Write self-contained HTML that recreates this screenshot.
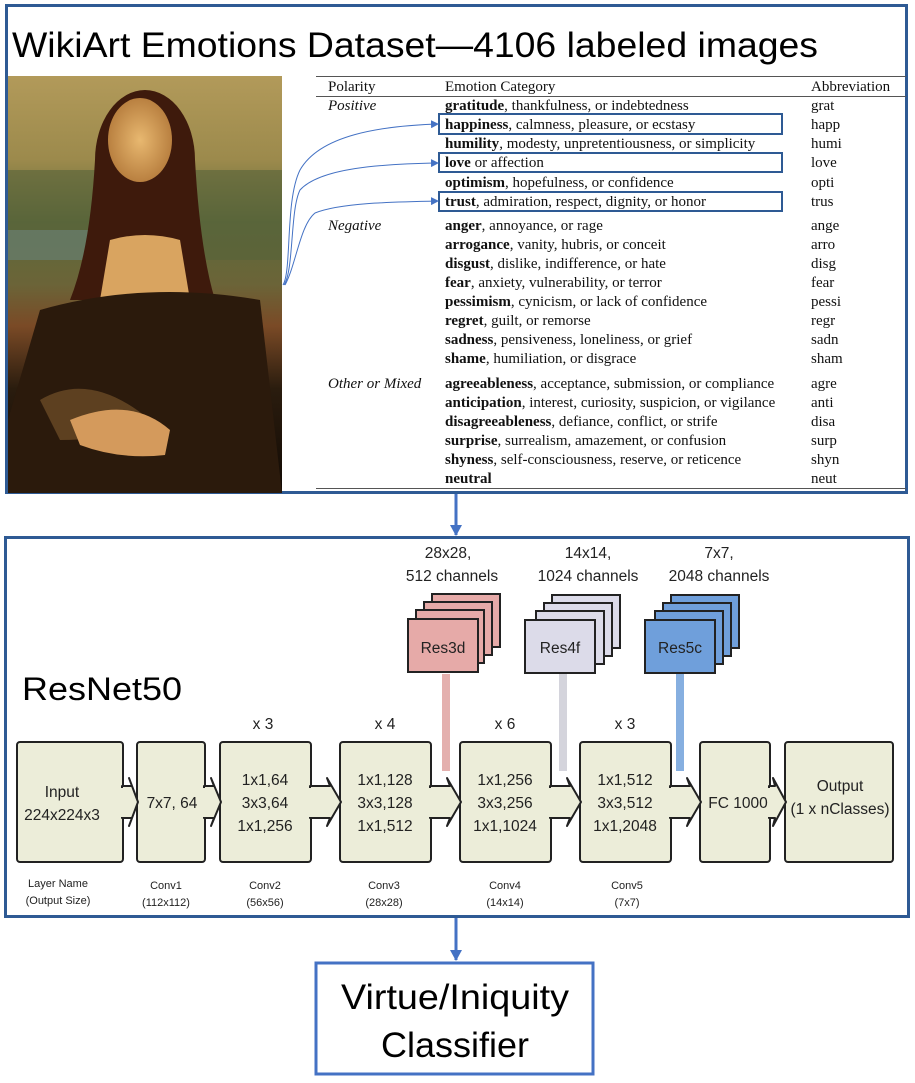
<!DOCTYPE html>
<html><head><meta charset="utf-8"><style>
html,body{margin:0;padding:0;background:#fff;width:915px;height:1083px;overflow:hidden}
svg{display:block}
.t{font-family:"Liberation Serif",serif;font-size:15px;fill:#111}
.s{font-family:"Liberation Sans",sans-serif;fill:#222}
</style></head><body>
<svg width="915" height="1083" viewBox="0 0 915 1083" xmlns="http://www.w3.org/2000/svg">
<defs>
<linearGradient id="bg" x1="0" y1="0" x2="0" y2="1">
<stop offset="0" stop-color="#b29a5a"/><stop offset="0.2" stop-color="#9c8a4c"/><stop offset="0.35" stop-color="#5e6a3a"/><stop offset="0.5" stop-color="#6b6438"/><stop offset="0.6" stop-color="#7a4a26"/><stop offset="0.75" stop-color="#2a1c0e"/><stop offset="1" stop-color="#120a04"/>
</linearGradient>
<radialGradient id="face" cx="0.5" cy="0.5" r="0.5"><stop offset="0" stop-color="#e8b870"/><stop offset="1" stop-color="#b98040"/></radialGradient>
<marker id="ah" markerWidth="8" markerHeight="8" refX="7" refY="4" orient="auto" markerUnits="userSpaceOnUse"><path d="M0,0 L8,4 L0,8z" fill="#4472c4"/></marker>
<marker id="ah2" markerWidth="12" markerHeight="12" refX="10" refY="6" orient="auto" markerUnits="userSpaceOnUse"><path d="M0,0 L11,6 L0,12z" fill="#4472c4"/></marker>
</defs>

<rect x="6.5" y="5.5" width="900" height="487" fill="none" stroke="#2e5a94" stroke-width="3"/>
<text x="12" y="57" font-family="Liberation Sans,sans-serif" font-size="35" fill="#000" textLength="806" lengthAdjust="spacingAndGlyphs">WikiArt Emotions Dataset—4106 labeled images</text>

<!-- painting -->
<rect x="8" y="76" width="274" height="417" fill="url(#bg)"/>
<rect x="8" y="170" width="274" height="90" fill="#56633a" opacity="0.6"/>
<rect x="8" y="230" width="80" height="30" fill="#6f8a88" opacity="0.5"/>
<ellipse cx="145" cy="160" rx="50" ry="70" fill="#3e1a0c"/>
<path d="M95,160 Q90,250 70,300 L215,300 Q200,250 195,160z" fill="#3e1a0c"/>
<ellipse cx="140" cy="140" rx="32" ry="42" fill="url(#face)"/>
<path d="M110,240 Q145,230 180,240 L190,300 Q145,320 100,300z" fill="#d9a460"/>
<path d="M40,310 Q145,280 260,300 L282,493 L8,493 L8,420z" fill="#2b1a0c"/>
<path d="M40,400 Q90,370 150,420 Q120,440 60,440z" fill="#6a4a26" opacity="0.8"/>
<path d="M70,420 Q130,395 170,430 L165,455 Q120,460 80,445z" fill="#d49a5c"/>

<!-- table -->
<line x1="316" y1="76.5" x2="906" y2="76.5" stroke="#555" stroke-width="1"/>
<line x1="316" y1="96.5" x2="906" y2="96.5" stroke="#555" stroke-width="1"/>
<line x1="316" y1="488.5" x2="906" y2="488.5" stroke="#555" stroke-width="1"/>
<g class="t">
<text x="328" y="91">Polarity</text><text x="445" y="91">Emotion Category</text><text x="811" y="91">Abbreviation</text>
<text x="328" y="110" font-style="italic">Positive</text>
<text x="328" y="230" font-style="italic">Negative</text>
<text x="328" y="388" font-style="italic">Other or Mixed</text>
<text x="445" y="110"><tspan font-weight="bold">gratitude</tspan>, thankfulness, or indebtedness</text>
<text x="445" y="129"><tspan font-weight="bold">happiness</tspan>, calmness, pleasure, or ecstasy</text>
<text x="445" y="148"><tspan font-weight="bold">humility</tspan>, modesty, unpretentiousness, or simplicity</text>
<text x="445" y="167"><tspan font-weight="bold">love</tspan> or affection</text>
<text x="445" y="187"><tspan font-weight="bold">optimism</tspan>, hopefulness, or confidence</text>
<text x="445" y="206"><tspan font-weight="bold">trust</tspan>, admiration, respect, dignity, or honor</text>
<text x="445" y="230"><tspan font-weight="bold">anger</tspan>, annoyance, or rage</text>
<text x="445" y="249"><tspan font-weight="bold">arrogance</tspan>, vanity, hubris, or conceit</text>
<text x="445" y="268"><tspan font-weight="bold">disgust</tspan>, dislike, indifference, or hate</text>
<text x="445" y="287"><tspan font-weight="bold">fear</tspan>, anxiety, vulnerability, or terror</text>
<text x="445" y="306"><tspan font-weight="bold">pessimism</tspan>, cynicism, or lack of confidence</text>
<text x="445" y="325"><tspan font-weight="bold">regret</tspan>, guilt, or remorse</text>
<text x="445" y="344"><tspan font-weight="bold">sadness</tspan>, pensiveness, loneliness, or grief</text>
<text x="445" y="363"><tspan font-weight="bold">shame</tspan>, humiliation, or disgrace</text>
<text x="445" y="388"><tspan font-weight="bold">agreeableness</tspan>, acceptance, submission, or compliance</text>
<text x="445" y="407"><tspan font-weight="bold">anticipation</tspan>, interest, curiosity, suspicion, or vigilance</text>
<text x="445" y="426"><tspan font-weight="bold">disagreeableness</tspan>, defiance, conflict, or strife</text>
<text x="445" y="445"><tspan font-weight="bold">surprise</tspan>, surrealism, amazement, or confusion</text>
<text x="445" y="464"><tspan font-weight="bold">shyness</tspan>, self-consciousness, reserve, or reticence</text>
<text x="445" y="483"><tspan font-weight="bold">neutral</tspan></text>
<text x="811" y="110">grat</text><text x="811" y="129">happ</text><text x="811" y="148">humi</text><text x="811" y="167">love</text><text x="811" y="187">opti</text><text x="811" y="206">trus</text>
<text x="811" y="230">ange</text><text x="811" y="249">arro</text><text x="811" y="268">disg</text><text x="811" y="287">fear</text><text x="811" y="306">pessi</text><text x="811" y="325">regr</text><text x="811" y="344">sadn</text><text x="811" y="363">sham</text>
<text x="811" y="388">agre</text><text x="811" y="407">anti</text><text x="811" y="426">disa</text><text x="811" y="445">surp</text><text x="811" y="464">shyn</text><text x="811" y="483">neut</text>
</g>
<g fill="none" stroke="#2e5a94" stroke-width="2">
<rect x="439" y="114" width="343" height="20"/>
<rect x="439" y="153" width="343" height="19"/>
<rect x="439" y="192" width="343" height="19"/>
</g>
<g fill="none" stroke="#4472c4" stroke-width="1">
<path d="M283,285 C292,270 285,200 300,170 C320,135 380,126 438,124" marker-end="url(#ah)"/>
<path d="M284,285 C294,270 290,210 300,190 C320,168 380,164 438,163" marker-end="url(#ah)"/>
<path d="M285,285 C296,265 300,225 315,213 C340,203 390,202 438,201" marker-end="url(#ah)"/>
</g>

<line x1="456" y1="494" x2="456" y2="535" stroke="#4472c4" stroke-width="3" marker-end="url(#ah2)"/>
<line x1="456" y1="918" x2="456" y2="960" stroke="#4472c4" stroke-width="3" marker-end="url(#ah2)"/>

<rect x="5.5" y="537.5" width="903" height="379" fill="none" stroke="#2e5a94" stroke-width="3"/>
<text x="22" y="700" font-family="Liberation Sans,sans-serif" font-size="32" fill="#000" textLength="160" lengthAdjust="spacingAndGlyphs">ResNet50</text>

<g class="s" font-size="15.5" text-anchor="middle">
<text x="448" y="558">28x28,</text><text x="452" y="581">512 channels</text>
<text x="588" y="558">14x14,</text><text x="588" y="581">1024 channels</text>
<text x="719" y="558">7x7,</text><text x="719" y="581">2048 channels</text>
</g>

<g stroke="#222" stroke-width="2">
<g fill="#e6aaa8">
<rect x="432" y="594" width="68" height="53"/><rect x="424" y="602" width="68" height="53"/><rect x="416" y="610" width="68" height="53"/><rect x="408" y="619" width="70" height="53"/>
</g>
<g fill="#dcdbe9">
<rect x="552" y="595" width="68" height="53"/><rect x="544" y="603" width="68" height="53"/><rect x="536" y="611" width="68" height="53"/><rect x="525" y="620" width="70" height="53"/>
</g>
<g fill="#6f9fdb">
<rect x="671" y="595" width="68" height="53"/><rect x="663" y="603" width="68" height="53"/><rect x="655" y="611" width="68" height="53"/><rect x="645" y="620" width="70" height="53"/>
</g>
</g>
<g class="s" font-size="15.5" text-anchor="middle">
<text x="443" y="653">Res3d</text><text x="560" y="653">Res4f</text><text x="680" y="653">Res5c</text>
</g>
<rect x="442" y="674" width="8" height="97" fill="#e4b0ae"/>
<rect x="559" y="674" width="8" height="97" fill="#d4d4dc"/>
<rect x="676" y="674" width="8" height="97" fill="#86afe0"/>

<g fill="#ecedd9" stroke="#222" stroke-width="2" stroke-linejoin="round">
<rect x="17" y="742" width="106" height="120" rx="3"/>
<rect x="137" y="742" width="68" height="120" rx="3"/>
<rect x="220" y="742" width="91" height="120" rx="3"/>
<rect x="340" y="742" width="91" height="120" rx="3"/>
<rect x="460" y="742" width="91" height="120" rx="3"/>
<rect x="580" y="742" width="91" height="120" rx="3"/>
<rect x="700" y="742" width="70" height="120" rx="3"/>
<rect x="785" y="742" width="108" height="120" rx="3"/>
</g>
<g fill="#ecedd9" stroke="#222" stroke-width="2" stroke-linejoin="round">
<path d="M122,786 L132,786 L129,778 L138,802 L129,826 L132,818 L122,818 Z"/>
<path d="M204,786 L214,786 L211,778 L221,802 L211,826 L214,818 L204,818 Z"/>
<path d="M310,786 L330,786 L327,778 L341,802 L327,826 L330,818 L310,818 Z"/>
<path d="M430,786 L450,786 L447,778 L461,802 L447,826 L450,818 L430,818 Z"/>
<path d="M550,786 L570,786 L567,778 L581,802 L567,826 L570,818 L550,818 Z"/>
<path d="M670,786 L690,786 L687,778 L701,802 L687,826 L690,818 L670,818 Z"/>
<path d="M769,786 L775,786 L773,778 L786,802 L773,826 L775,818 L769,818 Z"/>
</g>
<g fill="#ecedd9">
<rect x="120" y="788" width="8" height="29"/><rect x="202" y="788" width="8" height="29"/><rect x="308" y="788" width="18" height="29"/><rect x="428" y="788" width="18" height="29"/><rect x="548" y="788" width="18" height="29"/><rect x="668" y="788" width="18" height="29"/><rect x="767" y="788" width="6" height="29"/>
</g>

<g class="s" font-size="15.5" text-anchor="middle">
<text x="263" y="729">x 3</text><text x="385" y="729">x 4</text><text x="505" y="729">x 6</text><text x="625" y="729">x 3</text>
<text x="62" y="797">Input</text><text x="62" y="820">224x224x3</text>
<text x="172" y="808">7x7, 64</text>
<text x="265" y="785">1x1,64</text><text x="265" y="808">3x3,64</text><text x="265" y="831">1x1,256</text>
<text x="385" y="785">1x1,128</text><text x="385" y="808">3x3,128</text><text x="385" y="831">1x1,512</text>
<text x="505" y="785">1x1,256</text><text x="505" y="808">3x3,256</text><text x="505" y="831">1x1,1024</text>
<text x="625" y="785">1x1,512</text><text x="625" y="808">3x3,512</text><text x="625" y="831">1x1,2048</text>
<text x="738" y="808">FC 1000</text>
<text x="840" y="791">Output</text><text x="840" y="814">(1 x nClasses)</text>
</g>
<g class="s" font-size="11" text-anchor="middle">
<text x="58" y="887">Layer Name</text><text x="58" y="904">(Output Size)</text>
<text x="166" y="889">Conv1</text><text x="166" y="906">(112x112)</text>
<text x="265" y="889">Conv2</text><text x="265" y="906">(56x56)</text>
<text x="384" y="889">Conv3</text><text x="384" y="906">(28x28)</text>
<text x="505" y="889">Conv4</text><text x="505" y="906">(14x14)</text>
<text x="627" y="889">Conv5</text><text x="627" y="906">(7x7)</text>
</g>

<rect x="316" y="963" width="277" height="111" fill="none" stroke="#4472c4" stroke-width="3"/>
<g font-family="Liberation Sans,sans-serif" font-size="35" fill="#000" text-anchor="middle">
<text x="455" y="1009" textLength="228" lengthAdjust="spacingAndGlyphs">Virtue/Iniquity</text>
<text x="455" y="1057" textLength="148" lengthAdjust="spacingAndGlyphs">Classifier</text>
</g>
</svg>
</body></html>
